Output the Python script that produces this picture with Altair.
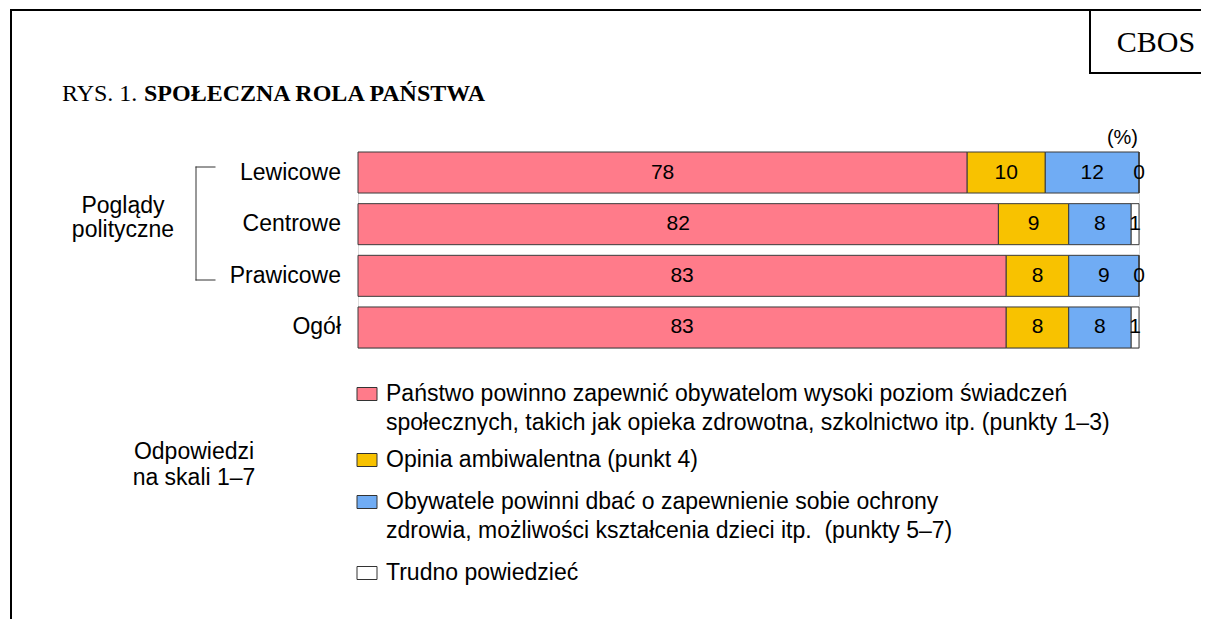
import altair as alt
import pandas as pd

# ---- data ----
groups = ["Lewicowe", "Centrowe", "Prawicowe", "Ogół"]
series_keys = ["state", "ambi", "self", "dk"]
v_state = [78, 82, 83, 83]
v_ambi = [10, 9, 8, 8]
v_self = [12, 8, 9, 8]
v_dk = [0, 1, 0, 1]
colors = ["#FF7B8A", "#F8C200", "#70ACF4", "#FFFFFF"]
legend_lines = [
    ["Państwo powinno zapewnić obywatelom wysoki poziom świadczeń",
     "społecznych, takich jak opieka zdrowotna, szkolnictwo itp. (punkty 1–3)"],
    ["Opinia ambiwalentna (punkt 4)"],
    ["Obywatele powinni dbać o zapewnienie sobie ochrony",
     "zdrowia, możliwości kształcenia dzieci itp.\u00a0 (punkty 5–7)"],
    ["Trudno powiedzieć"],
]

rows = []
for i, g in enumerate(groups):
    vals = [v_state[i], v_ambi[i], v_self[i], v_dk[i]]
    cum = 0
    for j, k in enumerate(series_keys):
        rows.append({"group": g, "series": k, "order": j, "value": vals[j],
                     "start": cum, "end": cum + vals[j], "mid": cum + vals[j] / 2})
        cum += vals[j]
df = pd.DataFrame(rows)
gdf = pd.DataFrame({"group": groups})

# ---- layout (plot origin at page x=358, y=152) ----
W, H = 781, 196
OX, OY = 358, 152
TOTAL_W, TOTAL_H = 1193, 611
PAD = {"left": OX - 8, "top": OY - 8,
       "right": TOTAL_W - (OX - 8) - W, "bottom": TOTAL_H - (OY - 8) - H}

SANS = "Liberation Sans"
SERIF = "Liberation Serif"
FS = 23

yenc = alt.Y("group:N", sort=groups,
             scale=alt.Scale(paddingInner=0.206, paddingOuter=0), axis=None)

bars = alt.Chart(df).mark_bar(stroke="#3a3a3a", strokeWidth=1).encode(
    y=yenc,
    x=alt.X("start:Q", scale=alt.Scale(domain=[0, 100], nice=False), axis=None),
    x2="end:Q",
    color=alt.Color("series:N", scale=alt.Scale(domain=series_keys, range=colors),
                    legend=None),
)

vlabels = alt.Chart(df).mark_text(font=SANS, fontSize=21, color="black",
                                  baseline="middle").encode(
    y=yenc, x=alt.X("mid:Q"), text="value:Q")

cats = alt.Chart(gdf).mark_text(font=SANS, fontSize=FS, align="right",
                                baseline="middle", color="black").encode(
    y=yenc, x=alt.value(-17), text="group:N")

one = alt.Data(values=[{}])


def P(x, y):
    return x - OX, y - OY


def hline(x1, x2, y, w=1, c="#333333"):
    a, b = P(x1, y)
    c2, _ = P(x2, y)
    return alt.Chart(one).mark_rule(strokeWidth=w, color=c, strokeCap="square").encode(
        x=alt.value(a), x2=alt.value(c2), y=alt.value(b))


def vline(x, y1, y2, w=1, c="#333333"):
    a, b = P(x, y1)
    _, d = P(x, y2)
    return alt.Chart(one).mark_rule(strokeWidth=w, color=c, strokeCap="square").encode(
        x=alt.value(a), y=alt.value(b), y2=alt.value(d))


def txt(s, x, y, size=FS, font=SANS, align="left", baseline="middle", weight="normal"):
    a, b = P(x, y)
    return alt.Chart(one).mark_text(text=s, font=font, fontSize=size, align=align,
                                    baseline=baseline, fontWeight=weight,
                                    color="black").encode(
        x=alt.value(a), y=alt.value(b))


def box(x1, x2, y1, y2, fill):
    a, b = P(x1, y1)
    c, d = P(x2, y2)
    return alt.Chart(one).mark_rect(fill=fill, stroke="#333333", strokeWidth=1).encode(
        x=alt.value(a), x2=alt.value(c), y=alt.value(b), y2=alt.value(d))


deco = [
    # frame
    hline(11, 1209, 10, 2, "black"),
    vline(11, 10, 627, 2, "black"),
    vline(1090, 10, 73, 2, "black"),
    hline(1090, 1209, 73, 2, "black"),
    txt("CBOS", 1156, 52, 30, SERIF, "center", "alphabetic"),
    txt("RYS. 1.", 62, 101, 24, SERIF, "left", "alphabetic"),
    txt("SPOŁECZNA ROLA PAŃSTWA", 144, 101, 24, SERIF, "left", "alphabetic", "bold"),
    txt("(%)", 1138, 138, 20, SANS, "right", "middle"),
    # bracket
    vline(196, 167, 280),
    hline(196, 215, 167),
    hline(196, 215, 280),
    txt("Poglądy", 123, 213, FS, SANS, "center", "alphabetic"),
    txt("polityczne", 123, 237, FS, SANS, "center", "alphabetic"),
    txt("Odpowiedzi", 194, 459, FS, SANS, "center", "alphabetic"),
    txt("na skali 1–7", 194, 485, FS, SANS, "center", "alphabetic"),
]

leg_y = [394, 460, 502, 573]
line_gap = 29
for k, lines in enumerate(legend_lines):
    yc = leg_y[k]
    deco.append(box(357, 377, yc - 6.5, yc + 6.5, colors[k]))
    for m, s in enumerate(lines):
        deco.append(txt(s, 386, yc + m * line_gap, FS, SANS, "left", "middle"))

chart = alt.layer(bars, vlabels, cats, *deco).properties(
    width=W, height=H,
    autosize=alt.AutoSizeParams(type="none"),
    padding=PAD,
).configure_view(stroke=None).configure(background="white")

chart.save("out.html", embed_options={"renderer": "svg", "actions": False})
